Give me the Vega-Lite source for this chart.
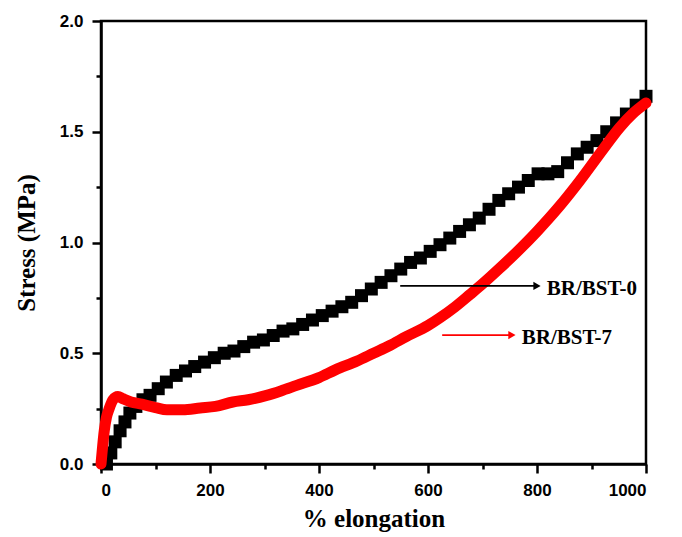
{
  "$schema": "https://vega.github.io/schema/vega-lite/v6.json",
  "width": 545,
  "height": 443,
  "autosize": {"type": "none"},
  "padding": {"left": 101, "top": 21, "right": 36, "bottom": 73},
  "background": "white",
  "config": {
    "view": {"stroke": "black", "strokeWidth": 2.5},
    "axis": {
      "grid": false,
      "domainColor": "black",
      "domainWidth": 2.5,
      "tickColor": "black",
      "tickWidth": 2.5,
      "labelFont": "Liberation Sans",
      "labelFontWeight": "bold",
      "labelFontSize": 17,
      "labelColor": "black",
      "labelOverlap": false,
      "titleFont": "Liberation Serif",
      "titleFontWeight": "bold",
      "titleFontSize": 25,
      "titleColor": "black"
    }
  },
  "datasets": {
    "black": [
      {"x": 10, "y": 0.0}, {"x": 18, "y": 0.05}, {"x": 26, "y": 0.1}, {"x": 35, "y": 0.15},
      {"x": 44, "y": 0.19}, {"x": 53, "y": 0.23}, {"x": 64, "y": 0.26}, {"x": 77, "y": 0.29},
      {"x": 90, "y": 0.31}, {"x": 105, "y": 0.34}, {"x": 120, "y": 0.37}, {"x": 138, "y": 0.4},
      {"x": 155, "y": 0.42}, {"x": 172, "y": 0.44}, {"x": 190, "y": 0.46}, {"x": 208, "y": 0.48},
      {"x": 226, "y": 0.5}, {"x": 244, "y": 0.51}, {"x": 262, "y": 0.53}, {"x": 280, "y": 0.55},
      {"x": 298, "y": 0.56}, {"x": 316, "y": 0.58}, {"x": 334, "y": 0.6}, {"x": 352, "y": 0.61},
      {"x": 370, "y": 0.63}, {"x": 388, "y": 0.65}, {"x": 406, "y": 0.67}, {"x": 424, "y": 0.69},
      {"x": 442, "y": 0.71}, {"x": 460, "y": 0.73}, {"x": 478, "y": 0.76}, {"x": 496, "y": 0.79},
      {"x": 514, "y": 0.82}, {"x": 532, "y": 0.85}, {"x": 550, "y": 0.88}, {"x": 568, "y": 0.91},
      {"x": 586, "y": 0.93}, {"x": 604, "y": 0.96}, {"x": 622, "y": 0.99}, {"x": 640, "y": 1.02},
      {"x": 658, "y": 1.05}, {"x": 676, "y": 1.08}, {"x": 694, "y": 1.11}, {"x": 712, "y": 1.15},
      {"x": 730, "y": 1.19}, {"x": 748, "y": 1.22}, {"x": 766, "y": 1.25}, {"x": 784, "y": 1.28},
      {"x": 802, "y": 1.31}, {"x": 820, "y": 1.31}, {"x": 838, "y": 1.32}, {"x": 856, "y": 1.36},
      {"x": 874, "y": 1.4}, {"x": 892, "y": 1.43}, {"x": 910, "y": 1.46}, {"x": 928, "y": 1.5},
      {"x": 946, "y": 1.54}, {"x": 964, "y": 1.58}, {"x": 982, "y": 1.62}, {"x": 1000, "y": 1.66}
    ],
    "red": [
      {"x": 0, "y": 0.0}, {"x": 3, "y": 0.08}, {"x": 6, "y": 0.15}, {"x": 10, "y": 0.21},
      {"x": 15, "y": 0.25}, {"x": 22, "y": 0.29}, {"x": 31, "y": 0.305}, {"x": 40, "y": 0.295},
      {"x": 55, "y": 0.28}, {"x": 75, "y": 0.27}, {"x": 100, "y": 0.255}, {"x": 121, "y": 0.245},
      {"x": 150, "y": 0.245}, {"x": 182, "y": 0.253}, {"x": 210, "y": 0.26}, {"x": 242, "y": 0.28},
      {"x": 270, "y": 0.29}, {"x": 304, "y": 0.31}, {"x": 330, "y": 0.33}, {"x": 359, "y": 0.355},
      {"x": 400, "y": 0.39}, {"x": 430, "y": 0.425}, {"x": 470, "y": 0.465}, {"x": 500, "y": 0.5},
      {"x": 530, "y": 0.535}, {"x": 560, "y": 0.575}, {"x": 600, "y": 0.625}, {"x": 622, "y": 0.66},
      {"x": 650, "y": 0.71}, {"x": 677, "y": 0.765}, {"x": 701, "y": 0.815}, {"x": 730, "y": 0.88},
      {"x": 760, "y": 0.95}, {"x": 800, "y": 1.05}, {"x": 840, "y": 1.16}, {"x": 879, "y": 1.28},
      {"x": 921, "y": 1.42}, {"x": 952, "y": 1.52}, {"x": 975, "y": 1.58}, {"x": 1000, "y": 1.63}
    ],
    "arrows": [
      {"name": "BR/BST-0", "x": 549, "x2": 800, "y": 0.804, "tx": 818, "c": "black"},
      {"name": "BR/BST-7", "x": 626, "x2": 754, "y": 0.582, "tx": 772, "c": "red"}
    ]
  },
  "layer": [
    {
      "data": {"name": "black"},
      "mark": {"type": "point", "shape": "square", "filled": true, "size": 169, "color": "black", "opacity": 1},
      "encoding": {
        "x": {
          "field": "x", "type": "quantitative",
          "scale": {"domain": [0, 1000], "nice": false},
          "title": "% elongation",
          "axis": {
            "values": [0, 100, 200, 300, 400, 500, 600, 700, 800, 900, 1000],
            "format": "d",
            "labelExpr": "datum.value % 200 === 0 ? datum.label : ''",
            "tickSize": {"condition": {"test": "datum.value % 200 === 0", "value": 9}, "value": 5},
            "labelPadding": 9,
            "titlePadding": 8
          }
        },
        "y": {
          "field": "y", "type": "quantitative",
          "scale": {"domain": [0, 2], "nice": false},
          "title": "Stress (MPa)",
          "axis": {
            "values": [0, 0.25, 0.5, 0.75, 1, 1.25, 1.5, 1.75, 2],
            "format": ".1f",
            "labelExpr": "datum.value % 0.5 === 0 ? datum.label : ''",
            "tickSize": {"condition": {"test": "datum.value % 0.5 === 0", "value": 9}, "value": 5},
            "labelPadding": 9,
            "titlePadding": 20
          }
        }
      }
    },
    {
      "data": {"name": "red"},
      "mark": {"type": "line", "color": "#ff0000", "strokeWidth": 11, "strokeCap": "round", "strokeJoin": "round", "interpolate": "monotone"},
      "encoding": {
        "x": {"field": "x", "type": "quantitative"},
        "y": {"field": "y", "type": "quantitative"}
      }
    },
    {
      "data": {"name": "arrows"},
      "mark": {"type": "rule", "strokeWidth": 1.6},
      "encoding": {
        "x": {"field": "x", "type": "quantitative"},
        "x2": {"field": "x2"},
        "y": {"field": "y", "type": "quantitative"},
        "color": {"field": "c", "type": "nominal", "scale": null}
      }
    },
    {
      "data": {"name": "arrows"},
      "mark": {"type": "point", "shape": "triangle-right", "filled": true, "size": 70, "opacity": 1},
      "encoding": {
        "x": {"field": "x2", "type": "quantitative"},
        "y": {"field": "y", "type": "quantitative"},
        "color": {"field": "c", "type": "nominal", "scale": null}
      }
    },
    {
      "data": {"name": "arrows"},
      "mark": {"type": "text", "align": "left", "baseline": "middle", "font": "Liberation Serif", "fontWeight": "bold", "fontSize": 21, "color": "black", "dy": 3},
      "encoding": {
        "x": {"field": "tx", "type": "quantitative"},
        "y": {"field": "y", "type": "quantitative"},
        "text": {"field": "name"}
      }
    }
  ]
}
